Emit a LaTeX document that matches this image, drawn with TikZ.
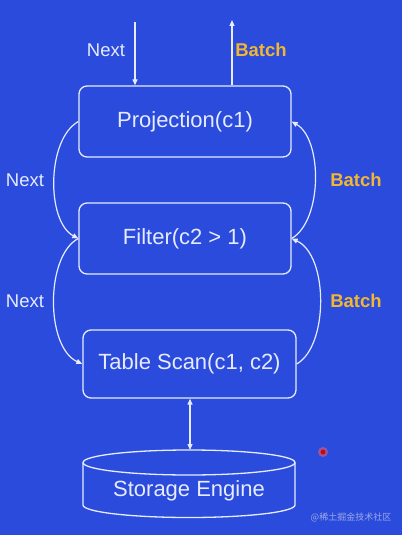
\documentclass[tikz,border=0pt]{standalone}
\usepackage{fontspec}
\setmainfont{Liberation Sans}
\newfontfamily\cjk{Noto Sans CJK SC}
\usetikzlibrary{arrows.meta,calc}
\definecolor{bg}{HTML}{2A4BDC}
\definecolor{fg}{HTML}{E6EBFF}
\definecolor{batchc}{HTML}{F2B632}
\definecolor{wm}{HTML}{9DAAE6}
\begin{document}
\begin{tikzpicture}[x=1pt,y=-1pt,
  opbox/.style={draw=fg,line width=1.3pt,rounded corners=8pt,minimum width=212pt,minimum height=71pt,
    text=fg,font=\fontsize{22}{26}\selectfont,inner sep=0pt},
  conn/.style={draw=fg,line width=1.2pt,-{Triangle[length=6pt,width=5pt]}},
  nextlbl/.style={text=fg,font=\fontsize{18.5}{22}\selectfont,inner sep=0pt},
  batchlbl/.style={text=batchc,font=\fontsize{18.5}{22}\selectfont\bfseries,inner sep=0pt}]
\fill[bg] (0,0) rectangle (402,535);
\useasboundingbox (0,0) rectangle (402,535);
% operator boxes
\node[opbox] (proj) at (185,121.5) {Projection(c1)};
\node[opbox] (filt) at (185,238.5) {Filter(c2 > 1)};
\node[opbox,minimum width=213pt,minimum height=68pt] (scan) at (189.5,364) {Table Scan(c1, c2)};
% storage cylinder
\node[minimum width=212pt,minimum height=67pt,inner sep=0pt] (store) at (189,484) {};
\draw[fg,line width=1.3pt] (189,462.5) ellipse [x radius=106,y radius=12.5];
\draw[fg,line width=1.3pt] (83,462.5) -- (83,505) arc[start angle=180,end angle=360,x radius=106,y radius=-12.5] -- (295,462.5);
\node[text=fg,font=\fontsize{22}{26}\selectfont,inner sep=0pt] (stxt) at (189,491) {Storage Engine};
% top arrows
\coordinate (nin) at (135,22);
\coordinate (bout) at (232,20);
\draw[conn] (nin) -- (nin |- proj.north);
\draw[conn] (bout |- proj.north) -- (bout);
\node[nextlbl] (n0) at (106,50) {Next};
\node[batchlbl] (b0) at (261,50) {Batch};
% curved next/batch arrows
\draw[conn] (proj.west) .. controls ($(proj.west)+(-32,18)$) and ($(filt.west)+(-32,-17)$) .. (filt.west);
\draw[conn] (filt.east) .. controls ($(filt.east)+(31,-18)$) and ($(proj.east)+(31,18)$) .. (proj.east);
\draw[conn] (filt.west) .. controls ($(filt.west)+(-33,17)$) and ($(scan.west)+(-37,-17)$) .. (scan.west);
\draw[conn] (scan.east) .. controls ($(scan.east)+(32,-18)$) and ($(filt.east)+(37,17)$) .. (filt.east);
\node[nextlbl] (n1) at (25,180) {Next};
\node[batchlbl] (b1) at (356,180) {Batch};
\node[nextlbl] (n2) at (25,301) {Next};
\node[batchlbl] (b2) at (356,301) {Batch};
% scan <-> storage
\draw[draw=fg,line width=1.2pt,{Triangle[length=6pt,width=5pt]}-{Triangle[length=6pt,width=5pt]}] (scan.south -| 190,0) -- (190,450);
% artifacts
\fill[red!60,opacity=0.5] (323,452) circle (5);
\fill[red!85!black] (323,452) circle (2.5);
\node[text=wm,font=\cjk\fontsize{9}{11}\selectfont,inner sep=0pt] (wmark) at (351,517) {@稀土掘金技术社区};
\end{tikzpicture}
\end{document}
